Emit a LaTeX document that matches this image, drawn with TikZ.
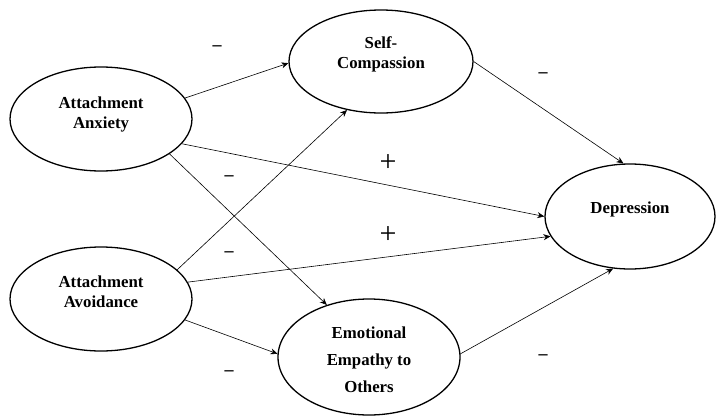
\documentclass[tikz,border=0pt]{standalone}
\usepackage{fontspec}
\setmainfont{Liberation Serif}
\usetikzlibrary{shapes.geometric,arrows.meta}

\begin{document}
\begin{tikzpicture}[x=1pt,y=1pt,
        oval/.style={draw=black, ellipse, line width=1.3pt, inner sep=0pt},
        vartext/.style={align=center, inner sep=0pt, font=\bfseries\fontsize{16.8}{20}\selectfont},
        link/.style={draw=black, line width=0.6pt, -{Stealth[length=7pt,width=6pt]}},
        sign/.style={inner sep=0pt, font=\bfseries\fontsize{18}{18}\selectfont},
        plus/.style={inner sep=0pt, font=\fontsize{30}{30}\selectfont}]
                \useasboundingbox (0,0) rectangle (718,-418);
                \node [oval, minimum width=182pt, minimum height=104pt] (anx) at (101,-119) {};
                \node [vartext] (anxt) at (101,-114) {Attachment\\Anxiety};
                \node [oval, minimum width=182pt, minimum height=104pt] (avo) at (101,-299) {};
                \node [vartext] (avot) at (101,-292) {Attachment\\Avoidance};
                \node [oval, minimum width=184pt, minimum height=103pt] (sc) at (381,-61.5) {};
                \node [vartext] (sct) at (381,-54) {Self-\\Compassion};
                \node [oval, minimum width=182pt, minimum height=116pt] (emp) at (369,-357) {};
                \node [vartext, font=\bfseries\fontsize{16.8}{27}\selectfont] (empt) at (369,-360) {Emotional\\Empathy to\\Others};
                \node [oval, minimum width=170pt, minimum height=105pt] (dep) at (630,-216.5) {};
                \node [vartext] (dept) at (630,-209) {Depression};
                \draw [link] (anx.14.5) -- (sc.181);
                \draw [link] (anx.-17.4) -- (dep.180.7);
                \draw [link] (anx.-27.2) -- (emp.129.6);
                \draw [link] (avo.21.3) -- (sc.235.8);
                \draw [link] (avo.11.4) -- (dep.194.9);
                \draw [link] (avo.-14.3) -- (emp.178);
                \draw [link] (sc.0) -- (dep.97.8);
                \draw [link] (emp.2) -- (dep.252.2);
                \node [sign] (s1) at (217,-48) {--};
                \node [sign] (s2) at (229,-178) {--};
                \node [sign] (s3) at (229,-254) {--};
                \node [sign] (s4) at (229,-373) {--};
                \node [sign] (s5) at (543,-75) {--};
                \node [sign] (s6) at (543,-357) {--};
                \node [plus] (p1) at (388,-163) {+};
                \node [plus] (p2) at (388,-235) {+};
\end{tikzpicture}
\end{document}
